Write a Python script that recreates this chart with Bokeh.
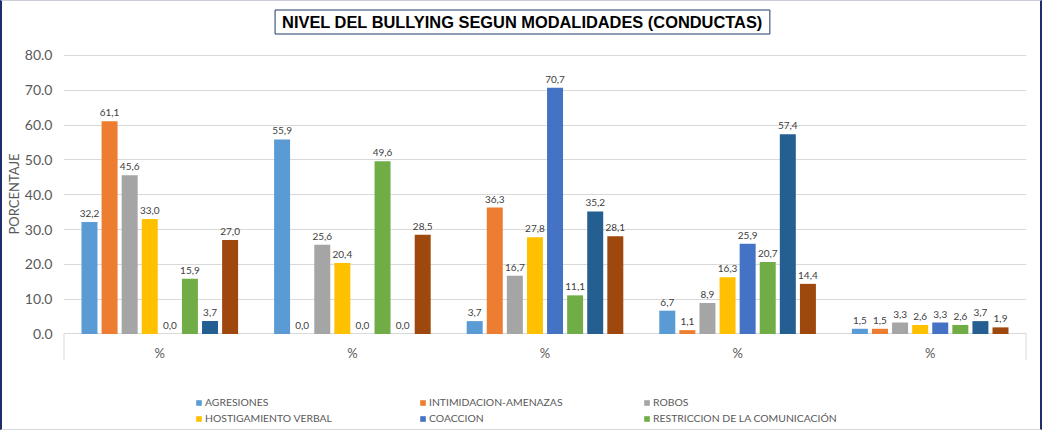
from bokeh.plotting import figure
from bokeh.models import FixedTicker, Label, Legend, LegendItem, NumeralTickFormatter, Title
from bokeh.core.properties import value
from bokeh.embed import file_html
from bokeh.resources import INLINE

# ---- data ----
groups = ["%", "%", "%", "%", "%"]
series = ["AGRESIONES", "INTIMIDACION-AMENAZAS", "ROBOS", "HOSTIGAMIENTO VERBAL",
          "COACCION", "RESTRICCION DE LA COMUNICACIÓN", "SERIE 7", "SERIE 8"]
agresiones = [32.2, 55.9, 3.7, 6.7, 1.5]
intimidacion = [61.1, 0.0, 36.3, 1.1, 1.5]
robos = [45.6, 25.6, 16.7, 8.9, 3.3]
hostigamiento = [33.0, 20.4, 27.8, 16.3, 2.6]
coaccion = [0.0, 0.0, 70.7, 25.9, 3.3]
restriccion = [15.9, 49.6, 11.1, 20.7, 2.6]
serie7 = [3.7, 0.0, 35.2, 57.4, 3.7]
serie8 = [27.0, 28.5, 28.1, 14.4, 1.9]
y_ticks = [0, 10, 20, 30, 40, 50, 60, 70, 80]
title_text = "NIVEL DEL BULLYING SEGUN MODALIDADES (CONDUCTAS)"
y_label = "PORCENTAJE"

values = [agresiones, intimidacion, robos, hostigamiento, coaccion, restriccion, serie7, serie8]
colors = ["#5B9BD5", "#ED7D31", "#A5A5A5", "#FFC000", "#4472C4", "#70AD47", "#255E91", "#9E480E"]

FONT = "Lato"
GRAY = "#595959"
LIGHT = "#D9D9D9"
NAVY = "#1F2D6B"

n = len(groups)
# frame spans the whole height; the value axis covers 0..80 inside it
p = figure(width=1042, height=430, x_range=(-0.5, n - 0.5), y_range=(-28.01, 95.51),
           output_backend="svg", toolbar_location=None, x_axis_location=None,
           min_border_left=61, min_border_right=18, min_border_top=0, min_border_bottom=0,
           styles={"border-top": "1px solid #C9CDD8", "border-bottom": "1px solid #D9D9D9",
                   "border-left": f"2px solid {NAVY}", "border-right": f"2px solid {NAVY}"})
p.outline_line_color = None
p.background_fill_color = "white"

pitch = 0.1043
bw = 0.083
renderers = []
for j, vals in enumerate(values):
    xs = [i + (j - 3.5) * pitch for i in range(n)]
    r = p.vbar(x=xs, top=vals, width=bw, fill_color=colors[j], line_color=None)
    renderers.append(r)
    labels = [f"{v:.1f}".replace(".", ",") for v in vals]
    p.text(x=xs, y=vals, text=labels, text_align="center", text_baseline="bottom",
           y_offset=-5, text_font=value(FONT), text_font_size="10px", text_color="#404040")

# category axis (drawn inside the frame, below zero)
p.segment(x0=[-0.5, n - 0.5], y0=[0, 0], x1=[-0.5, n - 0.5], y1=[-7.5, -7.5],
          line_color=LIGHT, line_width=2)
p.text(x=list(range(n)), y=[0] * n, text=groups, text_align="center", text_baseline="middle",
       y_offset=19, text_font=value(FONT), text_font_size="13px", text_color=GRAY)

# value axis
p.yaxis.ticker = FixedTicker(ticks=y_ticks)
p.yaxis.formatter = NumeralTickFormatter(format="0.0")
p.yaxis.axis_line_color = None
p.yaxis.major_tick_line_color = None
p.yaxis.minor_tick_line_color = None
p.yaxis.major_tick_out = 0
p.yaxis.major_label_standoff = 11
p.yaxis.major_label_text_font = FONT
p.yaxis.major_label_text_font_size = "14px"
p.yaxis.major_label_text_color = GRAY

p.xgrid.visible = False
p.ygrid.grid_line_color = LIGHT

# axis title on the left
p.add_layout(Title(text=y_label, align="left", offset=197, standoff=0, vertical_align="bottom",
                   text_font=FONT, text_font_size="13px", text_font_style="normal",
                   text_color=GRAY), "left")

# chart title box
title = Label(x=1.883, y=89.62, text=title_text, text_align="center", text_baseline="middle",
              text_font="Liberation Sans", text_font_size="16.4px", text_font_style="bold",
              text_color="black", border_line_color="#1F3864", border_line_width=1,
              background_fill_color="white", padding=(7, 3))
p.add_layout(title)

# legend (first six series)
items = [LegendItem(label=series[j], renderers=[renderers[j]]) for j in range(6)]
legend = Legend(items=items, location=(132, 7), orientation="horizontal", ncols=3,
                glyph_width=7, glyph_height=7, label_standoff=3, label_width=210,
                label_height=12, spacing=4, padding=0, margin=0,
                border_line_color=None, background_fill_alpha=0,
                label_text_font=FONT, label_text_font_size="10.4px", label_text_color=GRAY)
p.add_layout(legend)

open("out.html", "w").write(file_html(p, INLINE))
